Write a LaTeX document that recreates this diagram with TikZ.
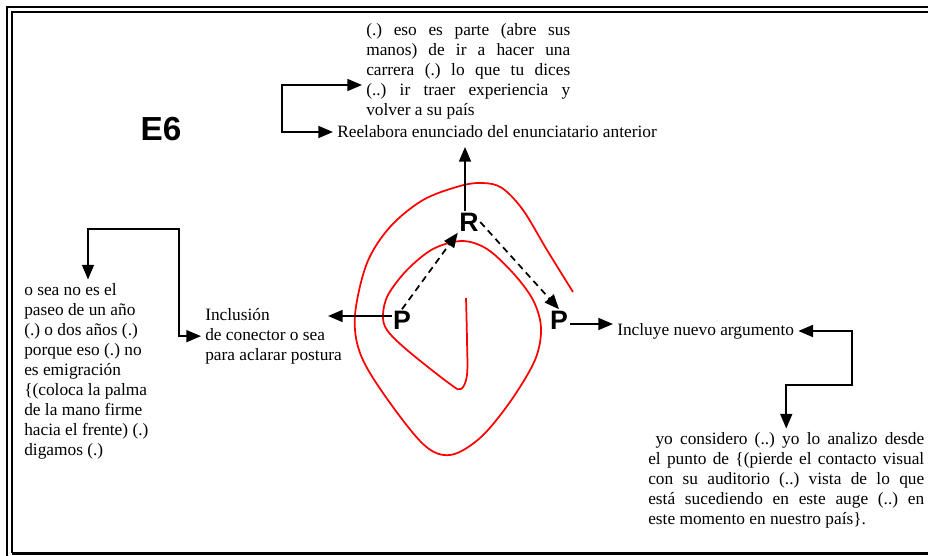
\documentclass[tikz,border=0pt]{standalone}
\usepackage{fontspec}
\setmainfont{Liberation Serif}
\setsansfont{Liberation Sans}
\usepackage{tikz}
\usetikzlibrary{arrows.meta,positioning,calc}
\frenchspacing

\begin{document}
\begin{tikzpicture}[
  x=0.75pt, y=-0.75pt,
  >={Triangle[length=11pt,width=9pt]},
  txt/.style={font=\fontsize{13}{15}\selectfont, inner sep=3pt},
  quote/.style={txt, align=justify},
  note/.style={txt, align=left},
  tag/.style={font=\sffamily\bfseries\fontsize{20}{22}\selectfont, inner sep=1pt},
  title/.style={font=\sffamily\bfseries\fontsize{25}{28}\selectfont},
  link/.style={->, line width=1.3pt},
  twolink/.style={<->, line width=1.3pt},
  guess/.style={->, line width=1.3pt, dash pattern=on 5pt off 3.5pt},
  spiral/.style={red, line width=1.3pt},
  frame/.style={line width=1.8pt}
]
\useasboundingbox (0,0) rectangle (928,556);

% --- frame ---
\draw[frame] (7,556) -- (7,7) -- (928,7);
\draw[frame] (12,553) -- (12,12) -- (928,12);
\draw[frame] (12,553.5) -- (928,553.5);

% --- spiral ---
\draw[spiral] plot[smooth, tension=0.55] coordinates {
  (466,298) (467,340) (467,375) (461,389) (450,384) (407,350) (387,330)
  (383,315) (388,295) (407,270) (433,249) (462,241) (487,249) (513,273)
  (533,300) (541,328) (535,360) (510,402) (480,438) (450,455) (423,444)
  (383,393) (360,353) (355,315) (367,263) (390,227) (423,200) (460,186)
  (483,183) (502,188) (523,210) (547,250) (573,292)};

% --- labels ---
\node[title] (e6) at (161,129) {E6};
\node[tag] (P1) at (402,320) {P};
\node[tag] (R) at (469,222) {R};
\node[tag] (P2) at (559,320) {P};

% --- texts ---
\node[quote, text width=153pt, anchor=north west] (cita1) at (362,19.5)
  {(.) eso es parte (abre sus\linebreak manos) de ir a hacer una\linebreak
   carrera (.) lo que tu dices\linebreak (..) ir traer experiencia y\linebreak
   volver a su país};
\node[txt, anchor=west] (reel) at (333,132)
  {Reelabora enunciado del enunciatario anterior};
\node[note, anchor=north west] (incl) at (201,304)
  {Inclusión\\ de conector o sea\\ para aclarar postura};
\node[note, anchor=north west] (cita2) at (20,279.5)
  {o sea no es el\\ paseo de un año\\ (.) o dos años (.)\\ porque eso (.) no\\
   es emigración\\ \{(coloca la palma\\ de la mano firme\\ hacia el frente) (.)\\
   digamos (.)};
\node[txt, anchor=west] (inc) at (613,331) {Incluye nuevo argumento};
\node[quote, text width=207pt, anchor=north west] (cita3) at (644,428.5)
  {~yo considero (..) yo lo analizo desde\linebreak el punto de \{(pierde el contacto visual\linebreak
   con su auditorio (..) vista de lo que\linebreak está sucediendo en este auge (..) en\linebreak
   este momento en nuestro país\}.};

% --- helper points ---
\coordinate (rup) at (465,147);
\coordinate (lt) at (328,316);
\coordinate (rt) at (613,324);
\coordinate (k1) at (282,85);
\coordinate (k2) at (88,229);
\coordinate (k3) at (179,229);
\coordinate (k4) at (852,385);

% --- arrows ---
\draw[link] (rup |- R.north) -- (rup);
\draw[link] (lt -| P1.west) -- (lt);
\draw[link] (rt -| P2.east) -- (rt);
\draw[guess] (P1.north) -- (R.south west);
\draw[guess] (R.east) -- (P2.north);
\draw[twolink] (reel.west) -| (k1) -- (k1 -| cita1.west);
\draw[twolink] (k2 |- cita2.north) -- (k2) -- (k3) |- (incl.west);
\draw[twolink] (inc.east) -| (k4) -| (cita3.north);

\end{tikzpicture}
\end{document}
